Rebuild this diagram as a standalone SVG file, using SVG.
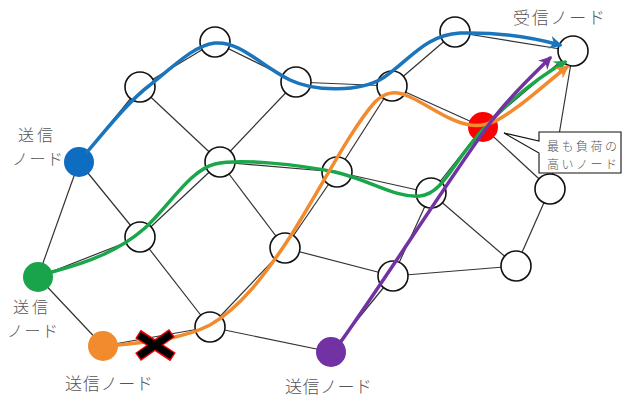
<svg xmlns="http://www.w3.org/2000/svg" width="623" height="399" viewBox="0 0 623 399">
<style>
.e{stroke:#333;stroke-width:1.2;fill:none}
.n{fill:#fff;stroke:#111;stroke-width:1.6}
.p{fill:none;stroke-width:3.5;stroke-linecap:round}
.t{font-family:"Noto Sans CJK JP","Noto Sans",sans-serif;fill:#555;font-weight:300}
</style>
<defs>
<marker id="mb" viewBox="0 0 10 10" refX="8" refY="5" markerWidth="13" markerHeight="13" orient="auto" markerUnits="userSpaceOnUse"><path d="M0,0 L10,5 L0,10 L3,5 z" fill="#1b75bc"/></marker>
<marker id="mg" viewBox="0 0 10 10" refX="8" refY="5" markerWidth="13" markerHeight="13" orient="auto" markerUnits="userSpaceOnUse"><path d="M0,0 L10,5 L0,10 L3,5 z" fill="#1aa64a"/></marker>
<marker id="mo" viewBox="0 0 10 10" refX="8" refY="5" markerWidth="13" markerHeight="13" orient="auto" markerUnits="userSpaceOnUse"><path d="M0,0 L10,5 L0,10 L3,5 z" fill="#f28a2e"/></marker>
<marker id="mp" viewBox="0 0 10 10" refX="8" refY="5" markerWidth="13" markerHeight="13" orient="auto" markerUnits="userSpaceOnUse"><path d="M0,0 L10,5 L0,10 L3,5 z" fill="#7232a3"/></marker>
</defs>
<rect width="623" height="399" fill="#fff"/>
<g id="edges">
<line class="e" x1="79" y1="162" x2="140" y2="87"/>
<line class="e" x1="140" y1="87" x2="215" y2="42"/>
<line class="e" x1="215" y1="42" x2="296" y2="82"/>
<line class="e" x1="296" y1="82" x2="392" y2="86"/>
<line class="e" x1="392" y1="86" x2="455" y2="32"/>
<line class="e" x1="455" y1="32" x2="573" y2="51"/>
<line class="e" x1="140" y1="87" x2="220" y2="162"/>
<line class="e" x1="296" y1="82" x2="220" y2="162"/>
<line class="e" x1="79" y1="162" x2="38" y2="277"/>
<line class="e" x1="79" y1="162" x2="140" y2="237"/>
<line class="e" x1="140" y1="237" x2="220" y2="162"/>
<line class="e" x1="220" y1="162" x2="337" y2="172"/>
<line class="e" x1="220" y1="162" x2="285" y2="248"/>
<line class="e" x1="392" y1="86" x2="337" y2="172"/>
<line class="e" x1="392" y1="86" x2="483" y2="127"/>
<line class="e" x1="337" y1="172" x2="431" y2="193"/>
<line class="e" x1="337" y1="172" x2="285" y2="248"/>
<line class="e" x1="431" y1="193" x2="483" y2="127"/>
<line class="e" x1="483" y1="127" x2="573" y2="51"/>
<line class="e" x1="483" y1="127" x2="550" y2="189"/>
<line class="e" x1="573" y1="51" x2="550" y2="189"/>
<line class="e" x1="550" y1="189" x2="516" y2="266"/>
<line class="e" x1="38" y1="277" x2="140" y2="237"/>
<line class="e" x1="38" y1="277" x2="103" y2="346"/>
<line class="e" x1="140" y1="237" x2="210" y2="327"/>
<line class="e" x1="210" y1="327" x2="285" y2="248"/>
<line class="e" x1="285" y1="248" x2="393" y2="276"/>
<line class="e" x1="393" y1="276" x2="516" y2="266"/>
<line class="e" x1="393" y1="276" x2="431" y2="193"/>
<line class="e" x1="431" y1="193" x2="516" y2="266"/>
<line class="e" x1="393" y1="276" x2="331" y2="352"/>
<line class="e" x1="210" y1="327" x2="331" y2="352"/>
<line class="e" x1="103" y1="346" x2="210" y2="327"/>
</g>
<g id="n-A"><circle class="n" cx="140" cy="87" r="15"/></g>
<g id="n-B"><circle class="n" cx="215" cy="42" r="15"/></g>
<g id="n-C"><circle class="n" cx="296" cy="82" r="15"/></g>
<g id="n-D"><circle class="n" cx="220" cy="162" r="15"/></g>
<g id="n-E"><circle class="n" cx="455" cy="32" r="15"/></g>
<g id="n-recv"><circle class="n" cx="573" cy="51" r="15"/></g>
<g id="n-F"><circle class="n" cx="392" cy="86" r="15"/></g>
<g id="n-G"><circle class="n" cx="337" cy="172" r="15"/></g>
<g id="n-H"><circle class="n" cx="431" cy="193" r="15"/></g>
<g id="n-I"><circle class="n" cx="550" cy="189" r="15"/></g>
<g id="n-J"><circle class="n" cx="140" cy="237" r="15"/></g>
<g id="n-K"><circle class="n" cx="210" cy="327" r="15"/></g>
<g id="n-L"><circle class="n" cx="285" cy="248" r="15"/></g>
<g id="n-M"><circle class="n" cx="393" cy="276" r="15"/></g>
<g id="n-N"><circle class="n" cx="516" cy="266" r="15"/></g>
<g id="n-red"><circle cx="483" cy="127" r="15" fill="#ff0000"/></g>
<g id="n-sblue"><circle cx="79" cy="162" r="15" fill="#0e6cc1"/></g>
<g id="n-sgreen"><circle cx="38" cy="277" r="15" fill="#19a34b"/></g>
<g id="n-sorange"><circle cx="103" cy="346" r="15" fill="#f28a2e"/></g>
<g id="n-spurple"><circle cx="331" cy="352" r="15" fill="#7232a3"/></g>
<g id="paths">
<path class="p" stroke="#1b75bc" marker-end="url(#mb)" d="M87,152 C110,125 130,100 150,85 C175,65 195,45 215,43 C240,41 260,65 290,80 C315,92 360,92 383,78 C410,60 425,35 460,33 C500,32 535,38 560,45"/>
<path class="p" stroke="#1aa64a" marker-end="url(#mg)" d="M52,272 C90,262 120,250 145,228 C170,205 190,170 215,164 C240,158 300,165 335,172 C370,180 395,198 420,196 C440,194 450,170 470,145 C495,113 530,82 565,62"/>
<path class="p" stroke="#f28a2e" marker-end="url(#mo)" d="M118,345 C150,342 185,338 210,325 C240,308 265,275 290,237 C320,190 350,130 375,102 C385,92 395,90 410,97 C430,106 450,122 470,125 C490,128 505,116 520,105 C535,94 550,80 567,67"/>
<path class="p" stroke="#7232a3" marker-end="url(#mp)" d="M335,350 C360,315 390,270 410,240 C440,195 470,150 490,123 C510,96 530,78 550,58"/>
</g>
<g id="xmark" stroke-linecap="butt">
<path d="M138,334 L173,357 M138,357 L172,333" stroke="#e00" stroke-width="10"/>
<path d="M139,335 L172,356 M139,356 L171,334" stroke="#000" stroke-width="7"/>
</g>
<g id="callout">
<path d="M539,132 H621 V173 H539 V153 L504,133 L539,141 Z" fill="#fff" stroke="#111" stroke-width="1.1"/>
<text class="t" x="547" y="151" font-size="12" textLength="70">最も負荷の</text>
<text class="t" x="547" y="168.5" font-size="12" textLength="70">高いノード</text>
</g>
<g id="labels">
<text class="t" x="513" y="24" font-size="17" textLength="92">受信ノード</text>
<text class="t" x="18" y="141" font-size="16" textLength="35">送信</text>
<text class="t" x="12" y="164.5" font-size="16" textLength="51">ノード</text>
<text class="t" x="13" y="313" font-size="16" textLength="35">送信</text>
<text class="t" x="7" y="336.5" font-size="16" textLength="51">ノード</text>
<text class="t" x="65" y="390" font-size="17" textLength="88">送信ノード</text>
<text class="t" x="285" y="393" font-size="17" textLength="87">送信ノード</text>
</g>
</svg>
